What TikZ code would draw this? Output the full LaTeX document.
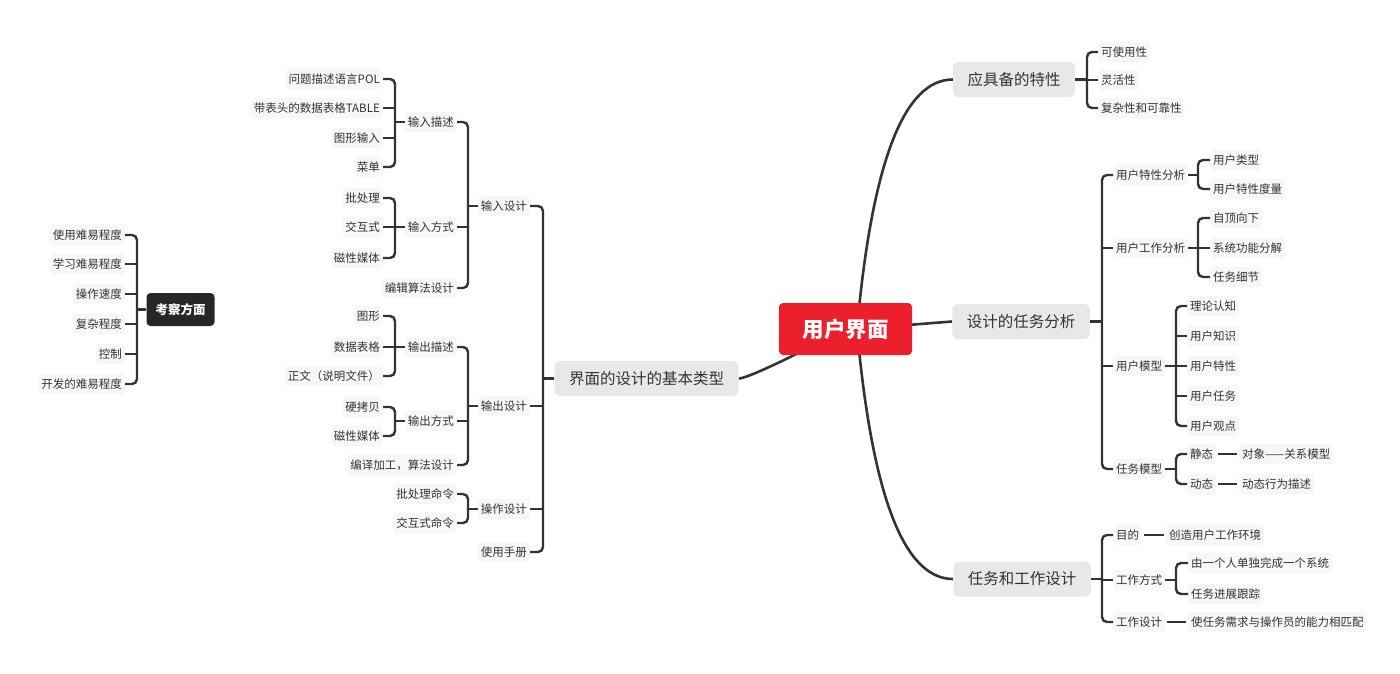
\documentclass[tikz,border=0pt]{standalone}
\usepackage{fontspec}
\setmainfont{Noto Sans CJK SC}
\usetikzlibrary{backgrounds}

\definecolor{inkgray}{HTML}{333333}
\definecolor{hubred}{HTML}{EC1F2D}
\definecolor{topicgray}{HTML}{E8E8E8}
\definecolor{leafgray}{HTML}{F7F7F7}

\tikzset{
	link/.style={draw=inkgray, line width=2.4pt},
	branch/.style={draw=inkgray, line width=2.6pt},
	hubbox/.style={fill=hubred, text=white, rounded corners=4pt, minimum width=133pt, minimum height=52pt, font=\fontsize{21.5}{24}\selectfont\bfseries},
	topic/.style={fill=topicgray, text=inkgray, rounded corners=5pt, inner xsep=14.5pt, minimum height=35pt, font=\fontsize{15.5}{18}\selectfont},
	keybox/.style={fill=black!85, text=white, rounded corners=4pt, inner xsep=9pt, minimum height=33pt, font=\fontsize{12.5}{15}\selectfont\bfseries},
	leaf/.style={fill=leafgray, text=inkgray, rounded corners=4pt, inner xsep=3pt, inner ysep=5pt, font=\fontsize{11.5}{14}\selectfont},
	lleaf/.style={leaf, anchor=east},
	rleaf/.style={leaf, anchor=west},
}

\begin{document}
\begin{tikzpicture}[x=1pt,y=-1pt]
	\useasboundingbox (0,0) rectangle (1400,673);
	% main topics
	\path (845.5,329) node(ui) [hubbox] {用户界面};
	\path (646.5,378.5) node(basic) [topic] {界面的设计的基本类型};
	\path (1014,79.5) node(feature) [topic] {应具备的特性};
	\path (1021,321.5) node(analysis) [topic] {设计的任务分析};
	\path (1022,579) node(job) [topic] {任务和工作设计};
	\path (180.5,309.5) node(aspect) [keybox] {考察方面};
	\coordinate (hub) at (857,329);

	% bracket columns (only x is used)
	\coordinate (colA) at (137,0);
	\coordinate (colB) at (395,0);
	\coordinate (colC) at (468,0);
	\coordinate (colD) at (543,0);
	\coordinate (colE) at (1087,0);
	\coordinate (colF) at (1102,0);
	\coordinate (colG) at (1176,0);
	\coordinate (colH) at (1198,0);

	% left side: basic types
	\path (383,79) node(pol) [lleaf] {问题描述语言POL};
	\path (383,108) node(table) [lleaf] {带表头的数据表格TABLE};
	\path (383,138) node(graphIn) [lleaf] {图形输入};
	\path (383,167) node(menu) [lleaf] {菜单};
	\path (383,198) node(batch) [lleaf] {批处理};
	\path (383,227) node(inter) [lleaf] {交互式};
	\path (383,258) node(magIn) [lleaf] {磁性媒体};
	\path (457,122) node(inDesc) [lleaf] {输入描述};
	\path (457,227) node(inMode) [lleaf] {输入方式};
	\path (457,288) node(inEdit) [lleaf] {编辑算法设计};
	\path (383,316) node(graph) [lleaf] {图形};
	\path (383,347) node(dataTab) [lleaf] {数据表格};
	\path (383,376) node(doc) [lleaf] {正文（说明文件）};
	\path (383,407) node(hard) [lleaf] {硬拷贝};
	\path (383,436) node(magOut) [lleaf] {磁性媒体};
	\path (457,347) node(outDesc) [lleaf] {输出描述};
	\path (457,421) node(outMode) [lleaf] {输出方式};
	\path (457,465) node(outComp) [lleaf] {编译加工，算法设计};
	\path (457,494) node(batchCmd) [lleaf] {批处理命令};
	\path (457,523) node(interCmd) [lleaf] {交互式命令};
	\path (530,206) node(inputD) [lleaf] {输入设计};
	\path (530,406) node(outputD) [lleaf] {输出设计};
	\path (530,509) node(operD) [lleaf] {操作设计};
	\path (530,552) node(manual) [lleaf] {使用手册};

	% left side: aspects
	\path (125,235) node(ease) [lleaf] {使用难易程度};
	\path (125,264) node(learn) [lleaf] {学习难易程度};
	\path (125,294) node(speed) [lleaf] {操作速度};
	\path (125,324) node(complex) [lleaf] {复杂程度};
	\path (125,354) node(control) [lleaf] {控制};
	\path (125,384) node(devel) [lleaf] {开发的难易程度};

	% right side
	\path (1098,52) node(usable) [rleaf] {可使用性};
	\path (1098,80) node(flexible) [rleaf] {灵活性};
	\path (1098,108) node(reliable) [rleaf] {复杂性和可靠性};
	\path (1113,175) node(userChar) [rleaf] {用户特性分析};
	\path (1113,248) node(userWork) [rleaf] {用户工作分析};
	\path (1113,366) node(userModel) [rleaf] {用户模型};
	\path (1113,469) node(taskModel) [rleaf] {任务模型};
	\path (1210,160) node(userType) [rleaf] {用户类型};
	\path (1210,189) node(userMeasure) [rleaf] {用户特性度量};
	\path (1210,218) node(topDown) [rleaf] {自顶向下};
	\path (1210,248) node(funcSplit) [rleaf] {系统功能分解};
	\path (1210,277) node(taskDetail) [rleaf] {任务细节};
	\path (1187,306) node(theory) [rleaf] {理论认知};
	\path (1187,336) node(userKnow) [rleaf] {用户知识};
	\path (1187,366) node(userTrait) [rleaf] {用户特性};
	\path (1187,396) node(userTask) [rleaf] {用户任务};
	\path (1187,426) node(userView) [rleaf] {用户观点};
	\path (1187,454) node(static) [rleaf] {静态};
	\path (1187,484) node(dynamic) [rleaf] {动态};
	\path (1239,454) node(objRel) [rleaf] {对象——关系模型};
	\path (1239,484) node(dynAct) [rleaf] {动态行为描述};
	\path (1113,535) node(goal) [rleaf] {目的};
	\path (1113,580) node(workMode) [rleaf] {工作方式};
	\path (1113,622) node(workDesign) [rleaf] {工作设计};
	\path (1166,535) node(env) [rleaf] {创造用户工作环境};
	\path (1188,563) node(single) [rleaf] {由一个人单独完成一个系统};
	\path (1188,594) node(track) [rleaf] {任务进展跟踪};
	\path (1188,622) node(match) [rleaf] {使任务需求与操作员的能力相匹配};

	%% Drawing Main Branches
	\begin{scope}[on background layer]
		\draw[branch] (hub) .. controls (872,162) and (904,79.5) .. (feature.west);
		\draw[branch] (hub) .. controls (872,496) and (904,579) .. (job.west);
		\draw[branch] (hub) -- (analysis.west);
		\draw[branch] (ui.center) .. controls (782,362) and (746,378.5) .. (basic.east);
	\end{scope}

	%% Drawing Brackets, left side
	\draw[link,rounded corners=5pt] (pol.east) -- (pol.east -| colB) -- (menu.east -| colB) -- (menu.east);
	\foreach \n in {table,graphIn} \draw[link] (\n.east) -- (\n.east -| colB);
	\draw[link] (inDesc.west) -- (inDesc.west -| colB);
	\draw[link,rounded corners=5pt] (batch.east) -- (batch.east -| colB) -- (magIn.east -| colB) -- (magIn.east);
	\draw[link] (inter.east) -- (inter.east -| colB);
	\draw[link] (inMode.west) -- (inMode.west -| colB);
	\draw[link,rounded corners=5pt] (inDesc.east) -- (inDesc.east -| colC) -- (inEdit.east -| colC) -- (inEdit.east);
	\draw[link] (inMode.east) -- (inMode.east -| colC);
	\draw[link] (inputD.west) -- (inputD.west -| colC);
	\draw[link,rounded corners=5pt] (graph.east) -- (graph.east -| colB) -- (doc.east -| colB) -- (doc.east);
	\draw[link] (dataTab.east) -- (dataTab.east -| colB);
	\draw[link] (outDesc.west) -- (outDesc.west -| colB);
	\draw[link,rounded corners=5pt] (hard.east) -- (hard.east -| colB) -- (magOut.east -| colB) -- (magOut.east);
	\draw[link] (outMode.west) -- (outMode.west -| colB);
	\draw[link,rounded corners=5pt] (outDesc.east) -- (outDesc.east -| colC) -- (outComp.east -| colC) -- (outComp.east);
	\draw[link] (outMode.east) -- (outMode.east -| colC);
	\draw[link] (outputD.west) -- (outputD.west -| colC);
	\draw[link,rounded corners=5pt] (batchCmd.east) -- (batchCmd.east -| colC) -- (interCmd.east -| colC) -- (interCmd.east);
	\draw[link] (operD.west) -- (operD.west -| colC);
	\draw[link,rounded corners=5pt] (inputD.east) -- (inputD.east -| colD) -- (manual.east -| colD) -- (manual.east);
	\foreach \n in {outputD,operD} \draw[link] (\n.east) -- (\n.east -| colD);
	\draw[link] (basic.west) -- (basic.west -| colD);
	\draw[link,rounded corners=5pt] (ease.east) -- (ease.east -| colA) -- (devel.east -| colA) -- (devel.east);
	\foreach \n in {learn,speed,complex,control} \draw[link] (\n.east) -- (\n.east -| colA);
	\draw[link] (aspect.west) -- (aspect.west -| colA);

	%% Drawing Brackets, right side
	\draw[link,rounded corners=5pt] (usable.west) -- (usable.west -| colE) -- (reliable.west -| colE) -- (reliable.west);
	\draw[link] (flexible.west) -- (flexible.west -| colE);
	\draw[link] (feature.east) -- (feature.east -| colE);
	\draw[link,rounded corners=5pt] (userChar.west) -- (userChar.west -| colF) -- (taskModel.west -| colF) -- (taskModel.west);
	\foreach \n in {userWork,userModel} \draw[link] (\n.west) -- (\n.west -| colF);
	\draw[link] (analysis.east) -- (analysis.east -| colF);
	\draw[link,rounded corners=5pt] (userType.west) -- (userType.west -| colH) -- (userMeasure.west -| colH) -- (userMeasure.west);
	\draw[link] (userChar.east) -- (userChar.east -| colH);
	\draw[link,rounded corners=5pt] (topDown.west) -- (topDown.west -| colH) -- (taskDetail.west -| colH) -- (taskDetail.west);
	\draw[link] (funcSplit.west) -- (funcSplit.west -| colH);
	\draw[link] (userWork.east) -- (userWork.east -| colH);
	\draw[link,rounded corners=5pt] (theory.west) -- (theory.west -| colG) -- (userView.west -| colG) -- (userView.west);
	\foreach \n in {userKnow,userTrait,userTask} \draw[link] (\n.west) -- (\n.west -| colG);
	\draw[link] (userModel.east) -- (userModel.east -| colG);
	\draw[link,rounded corners=5pt] (static.west) -- (static.west -| colG) -- (dynamic.west -| colG) -- (dynamic.west);
	\draw[link] (taskModel.east) -- (taskModel.east -| colG);
	\draw[link,shorten <=2pt,shorten >=2pt] (static.east) -- (objRel.west);
	\draw[link,shorten <=2pt,shorten >=2pt] (dynamic.east) -- (dynAct.west);
	\draw[link,rounded corners=5pt] (goal.west) -- (goal.west -| colF) -- (workDesign.west -| colF) -- (workDesign.west);
	\draw[link] (workMode.west) -- (workMode.west -| colF);
	\draw[link] (job.east) -- (job.east -| colF);
	\draw[link,shorten <=2pt,shorten >=2pt] (goal.east) -- (env.west);
	\draw[link,rounded corners=5pt] (single.west) -- (single.west -| colG) -- (track.west -| colG) -- (track.west);
	\draw[link] (workMode.east) -- (workMode.east -| colG);
	\draw[link,shorten <=2pt,shorten >=2pt] (workDesign.east) -- (match.west);
\end{tikzpicture}
\end{document}
